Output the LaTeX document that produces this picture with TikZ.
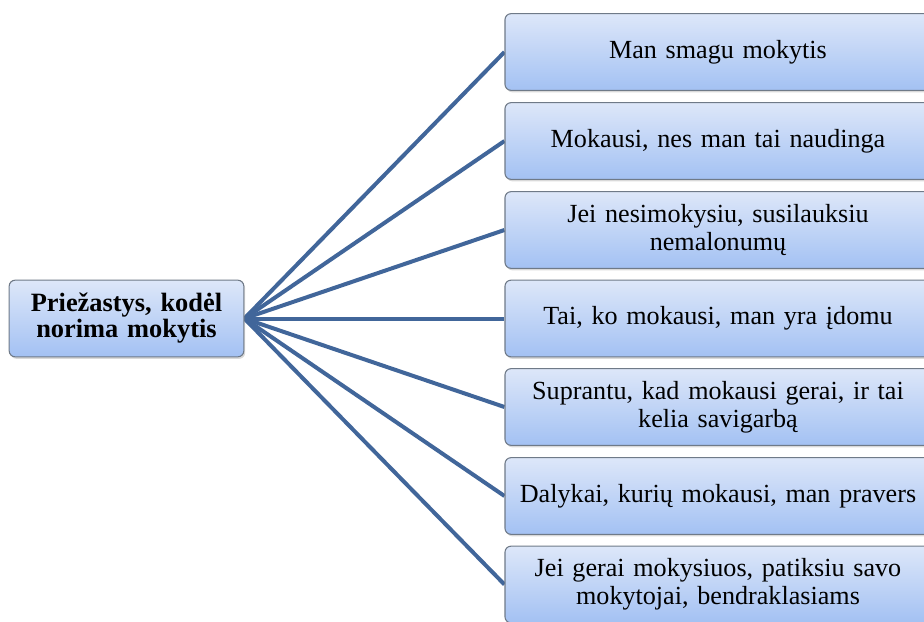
\documentclass[tikz,border=0pt]{standalone}
\usepackage{fontspec}
\setmainfont{Liberation Serif}
\usetikzlibrary{shadows,backgrounds}

\definecolor{boxtop}{HTML}{DDE7F9}
\definecolor{boxbot}{HTML}{A3C1F3}
\definecolor{boxline}{HTML}{6F7A88}
\definecolor{linkblue}{HTML}{41669A}

\tikzset{
	box/.style={draw=boxline, line width=0.8pt, rounded corners=4.5pt,
		top color=boxtop, bottom color=boxbot,
		drop shadow={opacity=0.3, shadow xshift=1pt, shadow yshift=-1.5pt},
		align=center, inner sep=2pt,
		font=\fontsize{19.6}{21}\selectfont},
	rootbox/.style={box, minimum width=176pt, minimum height=57.5pt,
		text width=170pt, font=\fontsize{19.8}{19.5}\selectfont\bfseries},
	leafbox/.style={box, minimum width=319.5pt, minimum height=57.5pt,
		text width=310pt},
	link/.style={draw=linkblue, line width=3pt},
}

\begin{document}
\begin{tikzpicture}[x=0.75pt,y=-0.75pt]
	%========
	%Frame
	%========
	\useasboundingbox (0,0) rectangle (924,621);
	\clip (0,0) rectangle (924,621);

	%========
	%Boxes
	%========
	\node[rootbox] (root) at (126.5,318.5) {Priežastys, kodėl\\norima mokytis};

	\node[leafbox] (r1) at (718,52)    {Man smagu mokytis};
	\node[leafbox] (r2) at (718,141)   {Mokausi, nes man tai naudinga};
	\node[leafbox] (r3) at (718,230)   {Jei nesimokysiu, susilauksiu\\nemalonumų};
	\node[leafbox] (r4) at (718,318.5) {Tai, ko mokausi, man yra įdomu};
	\node[leafbox] (r5) at (718,407)   {Suprantu, kad mokausi gerai, ir tai\\kelia savigarbą};
	\node[leafbox] (r6) at (718,496)   {Dalykai, kurių mokausi, man pravers};
	\node[leafbox] (r7) at (718,584.5) {Jei gerai mokysiuos, patiksiu savo\\mokytojai, bendraklasiams};

	%========
	%Links
	%========
	\begin{scope}[on background layer]
		\draw[link] (root.east) -- (r1.west);
		\draw[link] (root.east) -- (r2.west);
		\draw[link] (root.east) -- (r3.west);
		\draw[link] (root.east) -- (r4.west);
		\draw[link] (root.east) -- (r5.west);
		\draw[link] (root.east) -- (r6.west);
		\draw[link] (root.east) -- (r7.west);
	\end{scope}
\end{tikzpicture}
\end{document}
